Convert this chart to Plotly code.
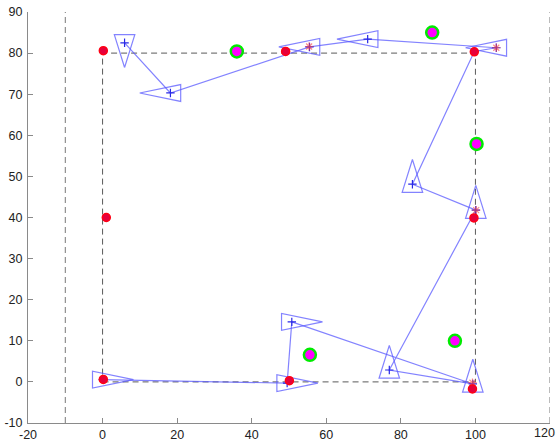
import math
import plotly.graph_objects as go

# Reference course: dashed square corners and the side walls
course_x = [0, 100, 100, 0, 0]
course_y = [0, 0, 80, 80, 0]
wall_x = [-10, 120]

# True robot positions at the waypoints
true_x = [0.2, 49.1, 99.7, 99.6, 50.1, 99.2, 0.2, 1.0]
true_y = [80.6, 80.4, 80.3, 39.9, 0.3, -1.7, 0.6, 40.0]

# Landmarks
lm_x = [36.0, 88.4, 100.3, 55.6, 94.5]
lm_y = [80.4, 85.0, 57.9, 6.6, 10.0]

# Estimated trajectory (in travel order)
path_x = [0.05, 49.5, 50.75, 99.3, 76.9, 100.1, 83.1, 99.7, 105.6, 71.1, 55.5, 18.2, 5.9]
path_y = [0.55, -0.3, 14.6, -0.5, 2.9, 41.8, 48.1, 80.4, 81.3, 83.4, 81.5, 70.3, 82.5]

# Estimated poses drawn as heading triangles
pose_x = [0.05, 49.5, 50.75, 99.3, 76.9, 100.1, 83.1, 105.6, 71.1, 55.5, 18.2, 5.9]
pose_y = [0.55, -0.3, 14.6, -0.5, 2.9, 41.8, 48.1, 81.3, 83.4, 81.5, 70.3, 82.5]
pose_heading = [0, 0, 0, 90, 90, 90, 90, 180, 180, 180, 180, -90]

# Corrected poses after a landmark update
upd_x = [99.2, 100.2, 105.6, 55.4]
upd_y = [-0.2, 41.8, 81.3, 81.6]

# Axis ticks
x_ticks = [-20, 0, 20, 40, 60, 80, 100, 120]
x_tick_text = ["-20", "0", "20", "40", "60", "80", "100", "120"]
y_ticks = [-10, 0, 10, 20, 30, 40, 50, 60, 70, 80, 90]
y_tick_text = ["-10", "0", "10", "20", "30", "40", "50", "60", "70", "80", "90"]

BLUE = "rgba(90,90,255,0.75)"
TICK_FONT = dict(family="Liberation Sans, Arial, sans-serif", size=12.5, color="#222222")


def triangle(cx, cy, deg, lx=11.0, ly=8.0, wx=2.75, wy=2.05):
    t = math.radians(deg)
    c, s = math.cos(t), math.sin(t)
    ax, ay = cx + 0.75 * lx * c, cy + 0.75 * ly * s
    bx, by = cx - 0.25 * lx * c, cy - 0.25 * ly * s
    px, py = -s * wx, c * wy
    xs = [ax, bx + px, bx - px, ax]
    ys = [ay, by + py, by - py, ay]
    return xs, ys


tri_x, tri_y = [], []
for x, y, h in zip(pose_x, pose_y, pose_heading):
    xs, ys = triangle(x, y, h)
    tri_x += xs + [None]
    tri_y += ys + [None]

fig = go.Figure()

dash_line = dict(color="#5a5a5a", width=1, dash="6px,4px")
fig.add_trace(go.Scatter(x=course_x, y=course_y, mode="lines", line=dash_line,
                         hoverinfo="skip", showlegend=False))
for wx in wall_x:
    fig.add_trace(go.Scatter(x=[wx, wx], y=[-10, 90], mode="lines",
                             line=dict(color="#777777", width=1, dash="6px,4px"),
                             hoverinfo="skip", showlegend=False))

fig.add_trace(go.Scatter(x=path_x, y=path_y, mode="lines",
                         line=dict(color=BLUE, width=1.2), showlegend=False))
fig.add_trace(go.Scatter(x=tri_x, y=tri_y, mode="lines",
                         line=dict(color=BLUE, width=1.2), showlegend=False))
fig.add_trace(go.Scatter(x=pose_x, y=pose_y, mode="markers",
                         marker=dict(symbol="cross-thin", size=6,
                                     line=dict(color="rgb(40,40,230)", width=1.2)),
                         showlegend=False))
fig.add_trace(go.Scatter(x=upd_x, y=upd_y, mode="markers",
                         marker=dict(symbol="asterisk", size=7,
                                     line=dict(color="rgba(255,60,60,0.6)", width=1.2)),
                         showlegend=False))
fig.add_trace(go.Scatter(x=true_x, y=true_y, mode="markers",
                         marker=dict(symbol="circle", size=8, color="rgb(230,0,60)",
                                     line=dict(color="rgb(255,0,20)", width=1.5)),
                         showlegend=False))
fig.add_trace(go.Scatter(x=lm_x, y=lm_y, mode="markers",
                         marker=dict(symbol="circle", size=12, color="rgb(255,0,255)",
                                     line=dict(color="rgb(0,235,0)", width=2.5)),
                         showlegend=False))

axis_common = dict(showgrid=False, zeroline=False, showline=True, linecolor="#8a8a8a",
                   linewidth=1, ticks="inside", ticklen=5, tickcolor="#8a8a8a",
                   tickfont=TICK_FONT, mirror=False, automargin=False)
fig.update_xaxes(range=[-20, 120], tickmode="array", tickvals=x_ticks,
                 ticktext=x_tick_text, **axis_common)
fig.update_yaxes(range=[-10, 90], tickmode="array", tickvals=y_ticks,
                 ticktext=y_tick_text, ticklabelstandoff=2, **axis_common)

# The last x label sits at the page edge; draw it explicitly, kept inside the page
fig.add_annotation(x=x_ticks[-1], xref="x", y=0, yref="paper", yanchor="top",
                   xanchor="right", xshift=7, yshift=-1, text=x_tick_text[-1],
                   showarrow=False, font=TICK_FONT)

fig.update_layout(width=558, height=443, autosize=False,
                  margin=dict(l=28, r=8, t=12, b=20),
                  plot_bgcolor="white", paper_bgcolor="white")

fig.write_html("out.html")
